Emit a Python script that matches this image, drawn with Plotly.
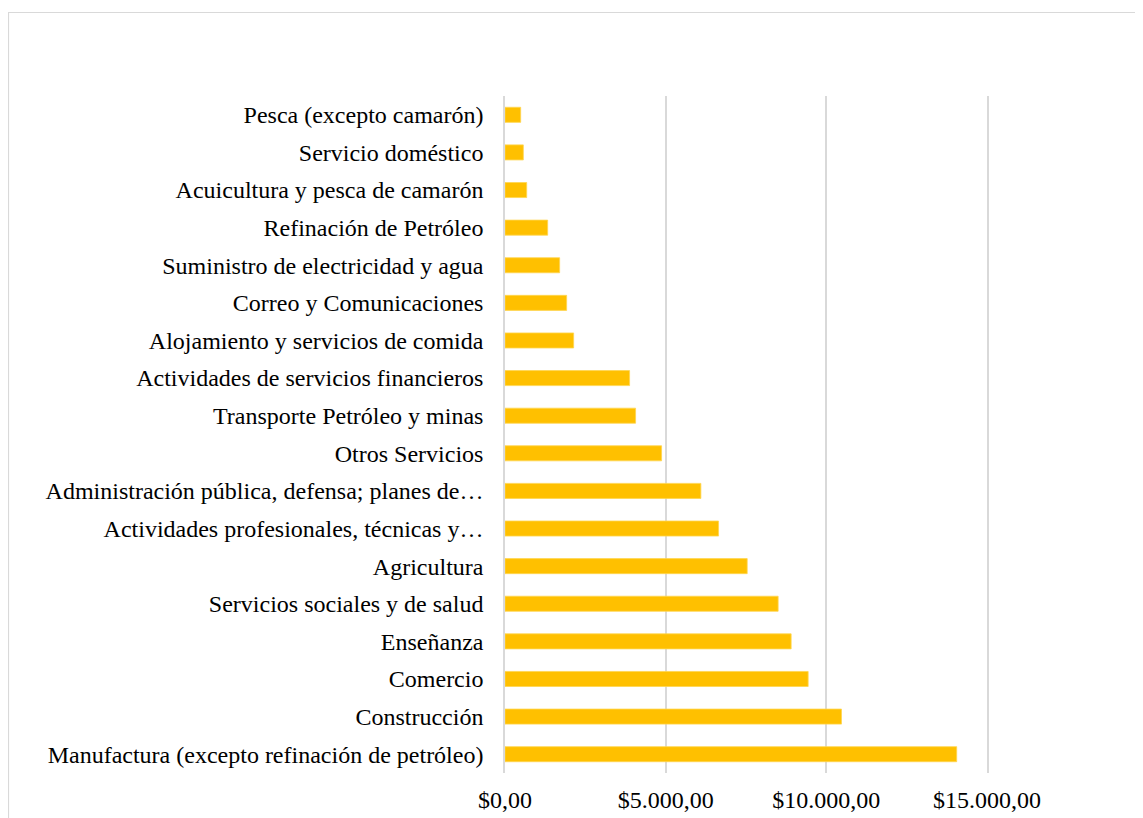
import plotly.graph_objects as go

categories = [
    "Manufactura (excepto refinación de petróleo)",
    "Construcción",
    "Comercio",
    "Enseñanza",
    "Servicios sociales y de salud",
    "Agricultura",
    "Actividades profesionales, técnicas y…",
    "Administración pública, defensa; planes de…",
    "Otros Servicios",
    "Transporte Petróleo y minas",
    "Actividades de servicios financieros",
    "Alojamiento y servicios de comida",
    "Correo y Comunicaciones",
    "Suministro de electricidad y agua",
    "Refinación de Petróleo",
    "Acuicultura y pesca de camarón",
    "Servicio doméstico",
    "Pesca (excepto camarón)",
]
values = [14057, 10471, 9434, 8905, 8500, 7537, 6646, 6096, 4873, 4064,
          3877, 2136, 1918, 1700, 1328, 675, 570, 488]

tick_values = [0, 5000, 10000, 15000]
tick_labels = ["$0,00", "$5.000,00", "$10.000,00", "$15.000,00"]

# page has an 8px body margin, so figure coords = page coords - 8
OFF = 8
W, H = 1143, 818
L, R, T, B = 505 - OFF, 1143 - (987 - OFF), 96 - OFF, 818 - (773 - OFF)
pw, ph = W - L - R, H - T - B

def px_x(px):
    return (px - OFF - L) / pw

def px_y(py):
    return (H - B - (py - OFF)) / ph

FONT = "Liberation Serif, Times New Roman, serif"
GRID = "#d9d9d9"

fig = go.Figure(go.Bar(
    y=categories, x=values, orientation="h",
    marker=dict(color="#FFC000", line=dict(color="#FFD54F", width=0.8)),
    width=0.4,
))

fig.update_layout(
    width=W, height=H,
    margin=dict(l=L, r=R, t=T, b=B, autoexpand=False),
    paper_bgcolor="white", plot_bgcolor="white",
    font=dict(family=FONT, size=24, color="#000000"),
    showlegend=False,
    xaxis=dict(
        range=[0, 15000], tickvals=tick_values, ticktext=tick_labels,
        showgrid=True, gridcolor=GRID, gridwidth=1.5,
        zeroline=False, showline=False, automargin=False,
        ticks="outside", ticklen=5, tickcolor="rgba(0,0,0,0)",
        tickfont=dict(family=FONT, size=24),
    ),
    yaxis=dict(
        categoryorder="array", categoryarray=categories,
        range=[-0.5, len(categories) - 0.5],
        showgrid=False, zeroline=False, automargin=False,
        showline=True, mirror=True, linecolor=GRID, linewidth=1.5,
        ticks="outside", ticklen=15, tickcolor="rgba(0,0,0,0)",
        tickfont=dict(family=FONT, size=24),
    ),
    shapes=[dict(
        type="rect", xref="paper", yref="paper",
        x0=px_x(8.5), x1=px_x(1170), y0=px_y(860), y1=px_y(12.5),
        line=dict(color=GRID, width=1.2), fillcolor="rgba(0,0,0,0)",
        layer="below",
    )],
)

fig.write_html("out.html")
